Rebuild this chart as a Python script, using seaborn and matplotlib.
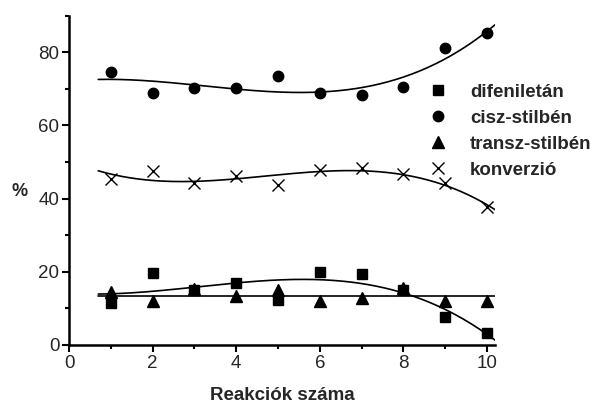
import numpy as np
import pandas as pd
import matplotlib
matplotlib.use("Agg")
import matplotlib.pyplot as plt
import seaborn as sns
from matplotlib.lines import Line2D
from matplotlib.ticker import MultipleLocator

# reaction number
runs = [1, 2, 3, 4, 5, 6, 7, 8, 9, 10]

# product distribution (%)
difeniletan = [11.5, 19.7, 15.0, 16.9, 12.3, 19.9, 19.4, 14.9, 7.6, 3.4]
cisz_stilben = [74.5, 69.0, 70.2, 70.2, 73.5, 68.9, 68.4, 70.5, 81.2, 85.2]
transz_stilben = [14.6, 11.9, 15.2, 13.5, 14.9, 11.9, 12.8, 15.5, 11.9, 12.0]
konverzio = [45.3, 47.6, 44.2, 46.1, 43.8, 47.8, 48.3, 46.7, 44.3, 37.7]

labels = ["difeniletán", "cisz-stilbén", "transz-stilbén", "konverzió"]

sns.set_style("ticks")
plt.rcParams['font.family'] = ['Liberation Sans', 'DejaVu Sans']

fig = plt.figure(figsize=(5.96, 4.03), dpi=100)
ax = fig.add_axes([0.1158, 0.144, 0.7155, 0.817])

# (values, marker, marker size, polynomial degree of the fitted curve)
series = [
    (difeniletan, 's', 6.5, 3),
    (cisz_stilben, 'o', 7.5, 3),
    (transz_stilben, '^', 8.0, 0),
    (konverzio, 'x', 8.0, 3),
]

x_fit = np.linspace(0.7, 10.2, 200)
for vals, marker, ms, deg in series:
    df = pd.DataFrame({"x": runs, "y": vals})
    coef = np.polyfit(df["x"], df["y"], deg)
    fit = pd.DataFrame({"x": x_fit, "y": np.polyval(coef, x_fit)})
    sns.lineplot(data=fit, x="x", y="y", ax=ax, color="black", lw=1.2)
    if marker == 'x':
        ax.plot(df["x"], df["y"], ls='none', marker='x', ms=ms, mew=1.0,
                color="black")
    else:
        ax.plot(df["x"], df["y"], ls='none', marker=marker, ms=ms,
                color="black", mec="black")

ax.set_xlim(0, 10.2)
ax.set_ylim(0, 90)
ax.xaxis.set_major_locator(MultipleLocator(2))
ax.xaxis.set_minor_locator(MultipleLocator(1))
ax.yaxis.set_major_locator(MultipleLocator(20))
ax.yaxis.set_minor_locator(MultipleLocator(10))
ax.tick_params(which='major', length=5, width=1.5, labelsize=13.5,
               direction='out', color='black', pad=2)
ax.tick_params(which='minor', length=3, width=1.5, direction='out',
               color='black')
for side in ['top', 'right']:
    ax.spines[side].set_visible(False)
for side in ['left', 'bottom']:
    ax.spines[side].set_linewidth(1.8)
    ax.spines[side].set_color('black')

ax.set_xlabel("Reakciók száma", fontsize=13.5, fontweight='bold')
ax.xaxis.set_label_coords(0.5, -0.128)
ax.set_ylabel("%", fontsize=13, fontweight='bold', rotation=0,
              ha='center', va='center')
ax.yaxis.set_label_coords(-0.115, 0.465)

handles = [
    Line2D([], [], ls='none', marker='s', ms=6.5, color='black'),
    Line2D([], [], ls='none', marker='o', ms=7.5, color='black'),
    Line2D([], [], ls='none', marker='^', ms=8.0, color='black'),
    Line2D([], [], ls='none', marker='x', ms=8.0, mew=1.0, color='black'),
]
leg = ax.legend(handles, labels, frameon=False, loc='upper left',
                bbox_to_anchor=(0.8255, 0.816), handlelength=1.0,
                handletextpad=1.2, labelspacing=0.47, borderaxespad=0,
                prop={'size': 13.5, 'weight': 'bold'})

fig.savefig("out.png", dpi=100)
